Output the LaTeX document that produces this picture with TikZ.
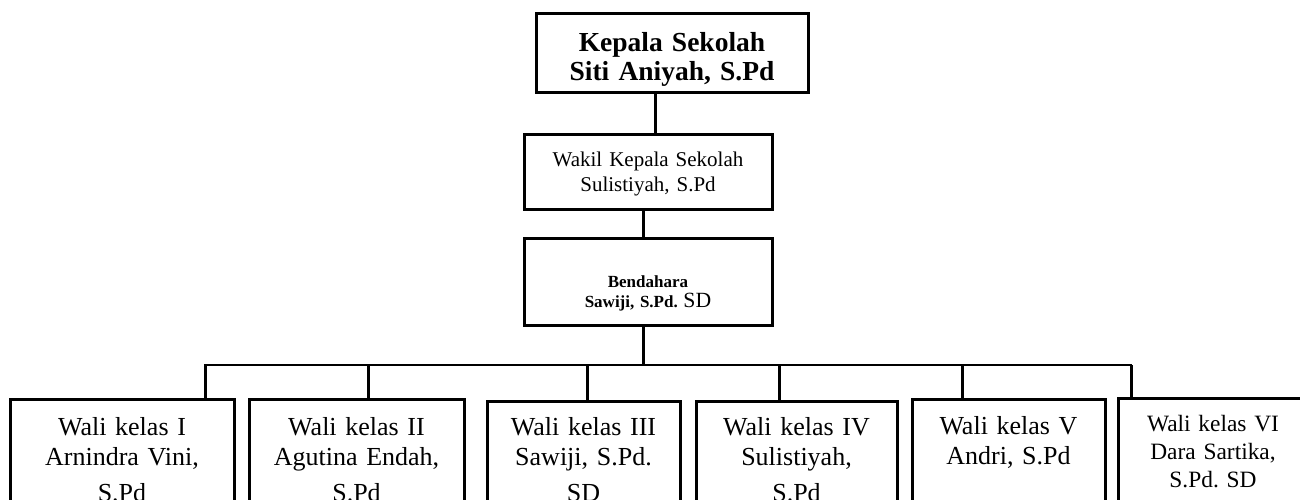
\documentclass[tikz,border=0pt]{standalone}
\usepackage{fontspec}
\setmainfont{Liberation Serif}
\frenchspacing

\begin{document}
\begin{tikzpicture}[x=1pt, y=-1pt,
		jabatan/.style={draw, line width=3pt, anchor=north, inner xsep=0pt, inner ysep=0pt, align=center},
		wali/.style={jabatan, font=\fontsize{26}{30}\selectfont, text height=36pt, text depth=140pt},
		garis/.style={line width=3pt},
		bus/.style={line width=1.5pt}]
		%%%%% START %%%%%
		
		\useasboundingbox (0, 0) rectangle (1300, 499);
		\clip (0, 0) rectangle (1300, 499);
		
		\node[jabatan, text width=272pt, font=\bfseries\fontsize{27.5}{29.3}\selectfont, text height=38pt, text depth=41pt] (kepala) at (672, 12) {Kepala Sekolah\\Siti Aniyah, S.Pd};
		\node[jabatan, text width=248pt, font=\fontsize{21}{25}\selectfont, text height=32pt, text depth=43pt] (wakil) at (648, 133) {Wakil Kepala Sekolah\\Sulistiyah, S.Pd};
		\node[jabatan, text width=248pt, font=\bfseries\fontsize{17}{20}\selectfont, text height=49pt, text depth=38pt] (bendahara) at (648, 237) {Bendahara\\Sawiji, S.Pd. {\mdseries\fontsize{21.7}{20}\selectfont SD}};
		
		\draw[garis] ([xshift=7pt]wakil.north) -- ([xshift=7pt]wakil.north |- kepala.south);
		\draw[garis] ([xshift=-5pt]wakil.south) -- ([xshift=-5pt]wakil.south |- bendahara.north);
		
		\coordinate (bus kiri) at (204, 365);
		\coordinate (bus kanan) at (1132, 365);
		\draw[garis] ([xshift=-5pt]bendahara.south) -- ([xshift=-5pt]bendahara.south |- bus kiri);
		\draw[bus] (bus kiri) -- (bus kanan);
		
		\node[wali, text width=224pt] (wali1) at (122, 398) {Wali kelas I\\Arnindra Vini,\\[6pt]S.Pd};
		\node[wali, text width=215pt] (wali2) at (356.5, 398) {Wali kelas II\\Agutina Endah,\\[6pt]S.Pd};
		\node[wali, text width=193pt, text height=34pt] (wali3) at (583.5, 400) {Wali kelas III\\Sawiji, S.Pd.\\[6pt]SD};
		\node[wali, text width=201pt, text height=34pt] (wali4) at (796.5, 400) {Wali kelas IV\\Sulistiyah,\\[6pt]S.Pd};
		\node[wali, text width=193pt, text height=35pt] (wali5) at (1008.5, 398) {Wali kelas V\\Andri, S.Pd};
		\node[wali, text width=190pt, font=\fontsize{23.4}{28}\selectfont, text height=33pt] (wali6) at (1213, 397) {Wali kelas VI\\Dara Sartika,\\S.Pd. SD};
		
		\foreach \x/\n in {205/1, 368/2, 587/3, 779/4, 962/5, 1131/6} {
			\coordinate (turun\n) at (\x, 365);
			\draw[garis] (turun\n) -- (turun\n |- wali\n.north);
		}
		
		%%%%% END %%%%%
	\end{tikzpicture}
\end{document}
